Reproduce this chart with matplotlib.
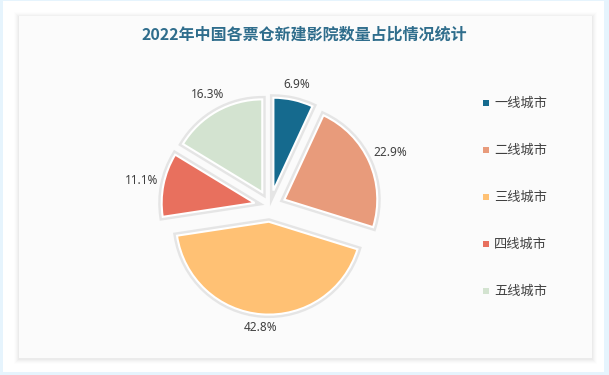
import numpy as np
import matplotlib
matplotlib.use("Agg")
import matplotlib.pyplot as plt
import matplotlib.patheffects as pe
from matplotlib.patches import Rectangle

plt.rcParams["font.family"] = ["Noto Sans CJK SC", "DejaVu Sans"]

title = "2022年中国各票仓新建影院数量占比情况统计"
categories = ["一线城市", "二线城市", "三线城市", "四线城市", "五线城市"]
shares = [6.9, 22.9, 42.8, 11.1, 16.3]
colors = ["#156a8e", "#e89b7b", "#ffc174", "#e8705e", "#d3e3d0"]

W, H = 609, 375
fig = plt.figure(figsize=(W / 100, H / 100), dpi=100)
fig.patch.set_facecolor("#e6f4fd")


def box(x0, y0, x1, y1, **kw):
    # pixel coords, origin top-left
    r = Rectangle((x0 / W, 1 - y1 / H), (x1 - x0) / W, (y1 - y0) / H,
                  transform=fig.transFigure, zorder=-10, **kw)
    fig.patches.append(r)


# white frame and card with a soft shadow
box(3, 1, 604, 372, facecolor="white", edgecolor="none")
for i, a in enumerate([0.008, 0.01, 0.014, 0.018, 0.025]):
    g = 5 - i
    box(19 - g, 16 - g + 1, 592 + g, 358 + g + 1, facecolor="black",
        edgecolor="none", alpha=a)
box(19, 16, 592, 358, facecolor="#fbfbfb", edgecolor="none")

fig.text(0.5, 1 - 35 / H, title, ha="center", va="center", fontsize=11.5,
         fontweight="bold", color="#2f6d8c")

# pie axes: centre (270, 206) px, half-size 130 px
ax = fig.add_axes([140 / W, 1 - 336 / H, 260 / W, 260 / H])

wedges, texts = ax.pie(
    shares,
    colors=colors,
    labels=[f"{v:.1f}%" for v in shares],
    startangle=90,
    counterclock=False,
    explode=[0.17] * len(shares),
    radius=1.0,
    labeldistance=1.2,
    wedgeprops=dict(edgecolor="white", linewidth=1.5),
    textprops=dict(fontsize=8.5, color="#404040", family=["Noto Sans", "DejaVu Sans"]),
)
# pie() resets the limits, so set them afterwards
ax.set_xlim(-1.4, 1.4)
ax.set_ylim(-1.4, 1.4)
ax.set_aspect("equal")
ax.axis("off")

for w in wedges:
    w.set_path_effects([pe.Stroke(linewidth=5, foreground="#d0d0d0", alpha=0.5),
                        pe.Normal()])

# place labels just outside each wedge, like an outside-end label
px = 92.86
tw, th, gap = 15 / px, 6 / px, 0.07
for w, t in zip(wedges, texts):
    ang = np.deg2rad((w.theta1 + w.theta2) / 2)
    cx, cy = w.center
    d = 1.0 + gap + tw * abs(np.cos(ang)) + th * abs(np.sin(ang))
    t.set_position((cx + d * np.cos(ang), cy + d * np.sin(ang)))
    t.set_ha("center")
    t.set_va("center")

# legend
for i, (c, name) in enumerate(zip(colors, categories)):
    y = 1 - (103 + 47 * i) / H
    fig.patches.append(Rectangle((483 / W, y - 3 / H), 6 / W, 6 / H,
                                 transform=fig.transFigure, facecolor=c,
                                 edgecolor="none"))
    fig.text(494 / W, y, name, ha="left", va="center", fontsize=9.5,
             color="#404040")

fig.savefig("out.png", dpi=100, facecolor=fig.get_facecolor())
